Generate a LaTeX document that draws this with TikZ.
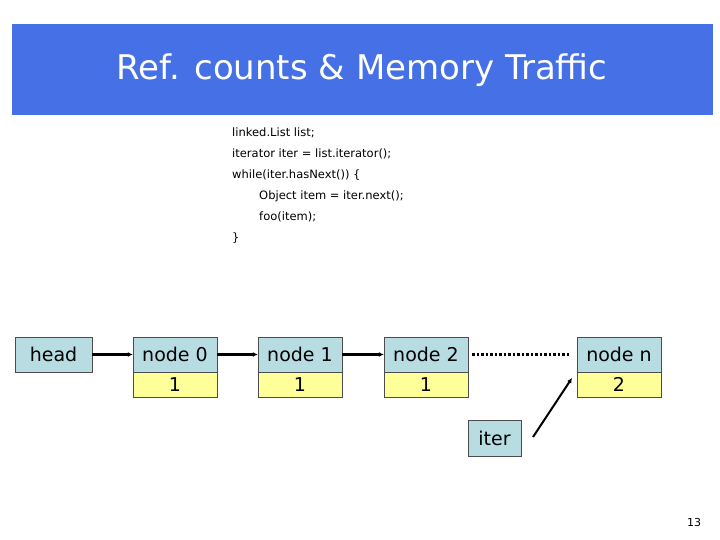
\documentclass[tikz,border=0pt]{standalone}
\usepackage{fontspec}
\setmainfont{DejaVu Sans}
\usetikzlibrary{arrows.meta}
\definecolor{bar}{HTML}{4570E6}
\definecolor{cellb}{HTML}{B7DDE3}
\definecolor{celly}{HTML}{FFFF99}
\begin{document}
\begin{tikzpicture}[x=1pt,y=-1pt,
  cellbox/.style={draw=black!70,fill=cellb,inner sep=0,font=\fontsize{19}{20}\selectfont},
  valbox/.style={draw=black!70,fill=celly,inner sep=0,font=\fontsize{19}{20}\selectfont},
  ptr/.style={line width=2.2pt,-{Latex[length=5pt,width=5pt]}}]
\useasboundingbox (0,0) rectangle (720,540);
\fill[white] (0,0) rectangle (720,540);
\node[fill=bar,minimum width=701,minimum height=91,inner sep=0] (bar) at (362.5,69.5) {};
\node[text=white,font=\fontsize{34}{36}\selectfont] (title) at (362,70) {Ref. counts \& Memory Traffic};
\node[anchor=north west,align=left,font=\fontsize{11.5}{21}\selectfont,inner sep=0] (code) at (232,128) {linked.List list;\\
iterator iter = list.iterator();\\
while(iter.hasNext()) \{\\
\hspace*{27pt}Object item = iter.next();\\
\hspace*{27pt}foo(item);\\
\}};
\node[cellbox,minimum width=77,minimum height=35] (head) at (53.5,354.5) {head};
\foreach \n/\x/\t/\v in {n0/175/node 0/1, n1/300/node 1/1, n2/426/node 2/1, nn/619/node n/2}{
  \node[cellbox,minimum width=84,minimum height=35] (\n) at (\x,354.5) {\t};
  \node[valbox,minimum width=84,minimum height=25,anchor=north] (\n v) at (\n.south) {\v};
}
\draw[ptr] (head) -- (n0);
\draw[ptr] (n0) -- (n1);
\draw[ptr] (n1) -- (n2);
\draw[line width=2.5pt,dotted] (n2.east) ++(4,0) -- ([xshift=-8pt]nn.west);
\node[cellbox,minimum width=53,minimum height=36] (iter) at (494.5,438) {iter};
\coordinate (tip) at (572,378);
\draw[ptr,line width=2pt] (533,437) -- (tip);
\node[font=\fontsize{11}{12}\selectfont] (pg) at (694,522) {13};
\end{tikzpicture}
\end{document}
